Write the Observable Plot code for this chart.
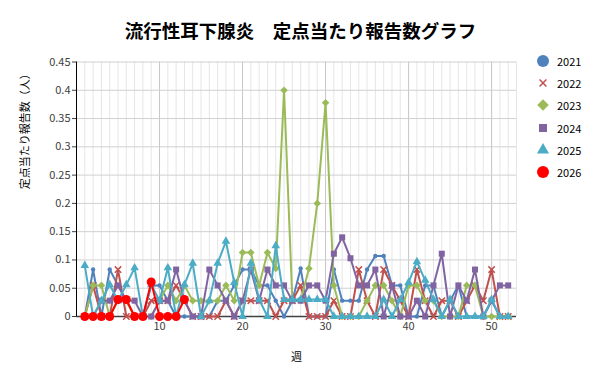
<!DOCTYPE html>
<html><head><meta charset="utf-8">
<script src="https://cdn.jsdelivr.net/npm/d3@7"></script>
<script src="https://cdn.jsdelivr.net/npm/@observablehq/plot@0.6"></script>
<style>
body{margin:0;background:#fff;}
#wrap{position:relative;width:600px;height:384px;font-family:"Noto Sans CJK JP","Noto Sans",sans-serif;}
#legend{position:absolute;left:532px;top:50px;}
.item{display:flex;align-items:center;height:22.2px;font-size:11px;color:#000;}
.item svg{width:22px;height:22px;margin-right:3px;}
</style></head><body><div id="wrap"><div id="legend"></div></div>
<script>
const title = "流行性耳下腺炎　定点当たり報告数グラフ";
const xLabel = "週";
const yLabel = "定点当たり報告数（人）";
const years = ["2021","2022","2023","2024","2025","2026"];
const yTicks = [0,0.05,0.1,0.15,0.2,0.25,0.3,0.35,0.4,0.45];
const yTickLabels = ["0","0.05","0.1","0.15","0.2","0.25","0.3","0.35","0.4","0.45"];
const xMajor = [10,20,30,40,50];
const xMinor = Array.from({length:53},(_,i)=>i+1);

const v2021 = [0,0.083,0,0.083,0.055,0.028,0,0,0.055,0.055,0.028,0,0,0,0,0,0.028,0.028,0.055,0.083,0.083,0.055,0.055,0.028,0,0.028,0.085,0,0,0,0.083,0.028,0.028,0.028,0.083,0.107,0.107,0.055,0.055,0,0,0.055,0.055,0,0.028,0.055,0,0,0,0.028,0,0];
const v2022 = [0,0.055,0,0,0.083,0,0,0,0.028,0.028,0.028,0.055,0.028,0,0,0,0,0.028,0,0.028,0.028,0.028,0.028,0,0.028,0.028,0.055,0,0,0,0.028,0,0,0.083,0.028,0,0.083,0.055,0.028,0,0.083,0.028,0,0.028,0.028,0,0.028,0.055,0.028,0.083,0,0];
const v2023 = [0,0.055,0.055,0,0.028,0.028,0,0,0,0.028,0.055,0.028,0.055,0.028,0.028,0.028,0.028,0.055,0.028,0.113,0.113,0.055,0.113,0.085,0.4,0.028,0.028,0.085,0.2,0.378,0.055,0,0,0,0.028,0.055,0.055,0.028,0,0.055,0.055,0.028,0.028,0,0,0,0.055,0.055,0,0,0,0];
const v2024 = [0,0,0.028,0.028,0.055,0.028,0.028,0,0,0.028,0.028,0.083,0.028,0,0,0.083,0.055,0.028,0,0.028,0.083,0.028,0.083,0.055,0.055,0.028,0.028,0.055,0.055,0.028,0.111,0.14,0.103,0.055,0.055,0.083,0,0.055,0,0,0.028,0,0.055,0.111,0,0.055,0.028,0.083,0,0.028,0.055,0.055];
const v2025 = [0.09,0,0.028,0.056,0.028,0.056,0.086,0,0.056,0.028,0.086,0,0.056,0.094,0,0.028,0.094,0.133,0.06,0,0.094,0.03,0,0.125,0.03,0.03,0.03,0.03,0.03,0.03,0,0,0,0,0,0,0.03,0,0.03,0.06,0.097,0.064,0.03,0,0.03,0,0,0,0,0.03,0,0];
const v2026 = [0,0,0,0,0.03,0.03,0,0,0.061,0,0,0,0.03];
const seriesValues = [v2021,v2022,v2023,v2024,v2025,v2026];

const style = {
  "2021":{color:"#4f81bd",symbol:"circle",r:2.2,filled:true,lr:6},
  "2022":{color:"#c0504d",symbol:"times",r:3,filled:false,lr:3.2},
  "2023":{color:"#9bbb59",symbol:"diamond2",r:3.4,filled:true,lr:5.2},
  "2024":{color:"#8064a2",symbol:"square",r:3.4,filled:true,lr:4.5},
  "2025":{color:"#4bacc6",symbol:"triangle",r:3.2,filled:true,lr:4.5},
  "2026":{color:"#ff0000",symbol:"circle",r:4.5,filled:true,lr:6}
};

const rows = [];
years.forEach((yr,i)=>seriesValues[i].forEach((v,j)=>rows.push({year:yr,week:j+1,value:v})));

const seriesMarks = [];
years.forEach(yr=>{
  const s = style[yr];
  const d = rows.filter(r=>r.year===yr);
  seriesMarks.push(Plot.line(d,{x:"week",y:"value",stroke:s.color,strokeWidth:2}));
  if (s.filled) seriesMarks.push(Plot.dot(d,{x:"week",y:"value",symbol:s.symbol,r:s.r,fill:s.color,stroke:"none"}));
  else seriesMarks.push(Plot.dot(d,{x:"week",y:"value",symbol:s.symbol,r:s.r,fill:"none",stroke:s.color,strokeWidth:1.5}));
});

const chart = Plot.plot({
  width:600, height:384,
  marginLeft:76, marginRight:84, marginTop:61.5, marginBottom:68,
  style:{fontFamily:'"Noto Sans CJK JP","Noto Sans",sans-serif',fontSize:"11px",color:"#404040",background:"#fff"},
  x:{domain:[0,53]},
  y:{domain:[0,0.45]},
  marks:[
    Plot.gridX(xMinor,{stroke:"#e6e6e6",strokeOpacity:1}),
    Plot.gridX(xMajor,{stroke:"#c8c8c8",strokeOpacity:1}),
    Plot.gridY(yTicks,{stroke:"#d0d0d0",strokeOpacity:1}),
    Plot.axisY(yTicks,{tickFormat:(d)=>yTickLabels[yTicks.indexOf(d)],tickSize:4,tickPadding:2,label:null,fill:"#404040"}),
    Plot.axisX(xMajor,{tickSize:0,tickPadding:6,label:null,fill:"#404040"}),
    Plot.ruleX([0],{stroke:"#000"}),
    Plot.ruleY([0],{stroke:"#404040",strokeWidth:1.3}),
    ...seriesMarks,
    Plot.text([xLabel],{frameAnchor:"bottom",lineAnchor:"middle",dy:41,text:d=>d,fill:"#000",fontSize:11}),
    Plot.text([yLabel],{frameAnchor:"left",rotate:-90,dx:-51,text:d=>d,fill:"#000",fontSize:11}),
    Plot.text([title],{frameAnchor:"top",lineAnchor:"middle",dy:-29.5,dx:4,text:d=>d,fill:"#000",fontSize:18.5,fontWeight:"bold"})
  ]
});
document.getElementById("wrap").prepend(chart);

const legend = d3.select("#legend");
years.forEach(yr=>{
  const s = style[yr];
  const item = legend.append("div").attr("class","item");
  const svg = item.append("svg").attr("viewBox","-11 -11 22 22");
  const sym = {circle:d3.symbolCircle,times:d3.symbolTimes,diamond2:d3.symbolDiamond2,square:d3.symbolSquare,triangle:d3.symbolTriangle}[s.symbol];
  const p = svg.append("path").attr("d",d3.symbol(sym,Math.PI*s.lr*s.lr)());
  if (s.filled) p.attr("fill",s.color); else p.attr("fill","none").attr("stroke",s.color).attr("stroke-width",1.5);
  item.append("span").text(yr);
});
</script>
</body></html>
